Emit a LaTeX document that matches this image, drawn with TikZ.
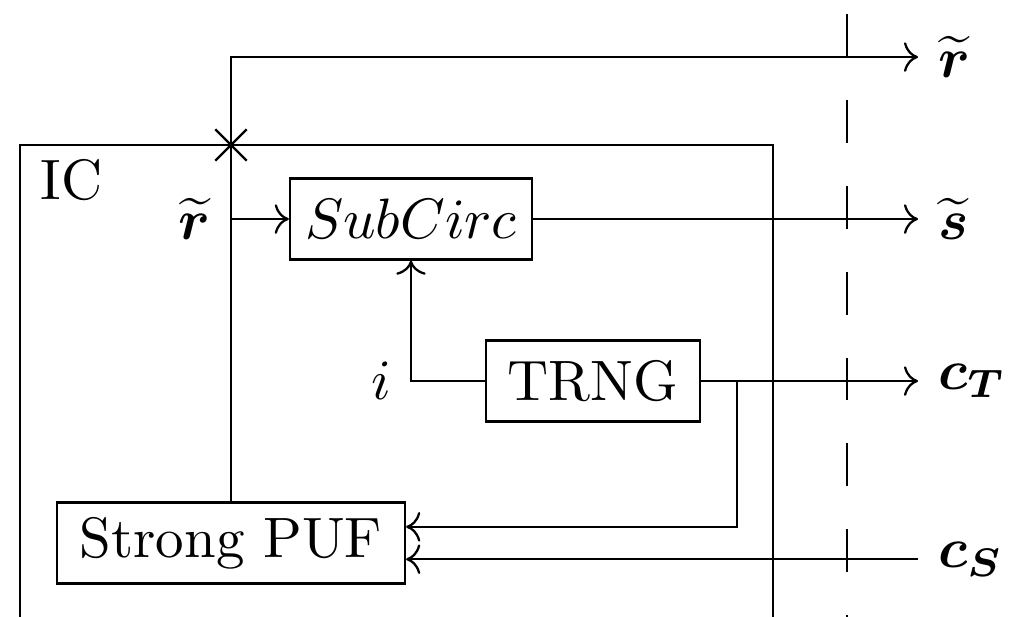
\documentclass[tikz,border=0pt]{standalone}
\usepackage{amsmath}
\usepackage{amssymb}
\usetikzlibrary{arrows.meta, positioning, shapes.misc}

\begin{document}
\begin{tikzpicture}[
    block/.style={rectangle, draw, minimum height=0.5cm, inner sep=0pt, align=center},
    arrow/.style={-{To}},
    tap/.style={draw, cross out, minimum size=0.18cm, inner sep=0pt}
]
    \clip (-1.426,0.352) rectangle (4.827,-3.451);
    % chip outline (runs off the bottom)
    \coordinate (frametl) at (-1.302,-0.543);
    \draw (-1.302,-3.8) |- (3.346,-0.543) -- (3.346,-3.8);
    \node[anchor=north west, inner sep=0.12cm, yshift=0.04cm] (ic) at (frametl) {IC};
    % blocks
    \node[block, minimum width=2.148cm] (puf) at (0,-3) {Strong PUF};
    \node[block, minimum width=1.494cm] (sub) at (1.111,-1) {$SubCirc$};
    \node[block, minimum width=1.32cm] (trng) at (2.235,-2) {TRNG};
    % outside ends
    \coordinate (rout) at (4.241,0);
    \coordinate (sout) at (4.241,-1);
    \coordinate (ctout) at (4.241,-2);
    \coordinate (csin) at (4.241,-3.1);
    \node[right=0pt of rout] (rlbl) {$\widetilde{\boldsymbol{r}}$};
    \node[right=0pt of sout] (slbl) {$\widetilde{\boldsymbol{s}}$};
    \node[right=0pt of ctout] (ctlbl) {$\boldsymbol{c_T}$};
    \node[right=0pt of csin] (cslbl) {$\boldsymbol{c_S}$};
    % response line
    \draw[arrow] (puf.north) |- (rout);
    \node[tap] (cut) at (puf.north |- frametl) {};
    \coordinate (rin) at (0,-1);
    \node[left=0pt of rin] (rinlbl) {$\widetilde{\boldsymbol{r}}$};
    \draw[arrow] (rin) -- (sub.west);
    \draw[arrow] (sub.east) -- (sout);
    % TRNG outputs
    \draw[arrow] (trng.west) -| node[pos=0.5, left] (ilbl) {$i$} (sub.south);
    \draw[arrow] (trng.east) -- (ctout);
    \coordinate (split) at (3.123,-2);
    \draw[arrow] (split) |- ([yshift=0.1cm]puf.east);
    \draw[arrow] (csin) -- ([yshift=-0.1cm]puf.east);
    % boundary
    \draw[dash pattern=on 0.265cm off 0.265cm] (3.802,0.265) -- (3.802,-3.8);
\end{tikzpicture}
\end{document}
